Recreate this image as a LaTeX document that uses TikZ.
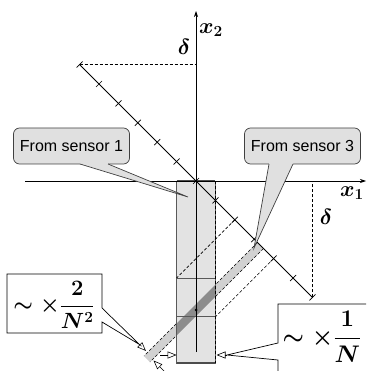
\RequirePackage{fix-cm}
\documentclass[tikz,border=0pt]{standalone}
\usepackage{amsmath}
\usepackage{fontspec}
\setsansfont{Liberation Sans}
\usetikzlibrary{arrows.meta,calc}
\begin{document}
\begin{tikzpicture}[x=1pt,y=-1pt,
  ax/.style={line width=0.7pt,-{Stealth[length=6pt,width=4pt]}},
  diag/.style={line width=0.9pt},
  tickmark/.style={line width=0.7pt},
  dsh/.style={line width=0.6pt,dash pattern=on 3pt off 2pt},
  lbl/.style={font=\fontsize{22}{26}\selectfont\boldmath,inner sep=0pt},
  biglbl/.style={font=\fontsize{24}{28}\selectfont\boldmath,inner sep=0pt},
  callout/.style={draw=black!75,fill=black!12,rounded corners=6pt,line width=0.7pt,
    font=\sffamily\fontsize{16}{19}\selectfont,minimum width=116pt,minimum height=36pt,inner sep=0pt},
  pointerfill/.style={fill=black!12},
  pointerline/.style={draw=black!75,line width=0.7pt},
  boxline/.style={line width=0.7pt,fill=white},
  oarrow/.style={line width=0.6pt,-{Triangle[open,length=9pt,width=7pt]}},
  cellline/.style={draw=black!65,line width=0.8pt},
]
\useasboundingbox (0,0) rectangle (366,371);
\clip (0,0) rectangle (366,371);

% key coordinates
\coordinate (O) at (196,181);
\foreach \k in {0,...,12} \coordinate (t\k) at ({196+19.4*(\k-6)},{181+19.4*(\k-6)});
\coordinate (RA) at (176.6,181);
\coordinate (RB) at (215.4,363);

% light band from sensor 3
\fill[black!18] (257.5,242.5) -- (263.5,248.5) -- (150,362) -- (144,356) -- cycle;
\draw[dsh] (257.5,242.5) -- (144,356);
\draw[dsh] (263.5,248.5) -- (150,362);

% sensor 1 strip
\fill[black!11] (RA) rectangle (RB);
\begin{scope}
  \clip (RA) rectangle (RB);
  \fill[black!45] (257.5,242.5) -- (263.5,248.5) -- (150,362) -- (144,356) -- cycle;
\end{scope}
\draw[cellline] (RA) rectangle (RB);
\draw[draw=black!70,line width=1.6pt] (176.6,181) -- (215.4,181);
\draw[draw=black!70,line width=1.6pt] (176.6,363) -- (215.4,363);
\draw[dsh] (215.4,181) -- (215.4,363);
\draw[cellline] (176.6,278) -- (215.4,278);
\draw[cellline] (176.6,316.8) -- (215.4,316.8);

% axes
\draw[ax] (25,181) -- (366,181);
\draw[ax] (196,352) -- (196,11);

% diagonal with ticks
\draw[diag] (t0) -- (t12);
\foreach \k in {0,...,12} \draw[tickmark] ($(t\k)+(-3,3)$) -- ($(t\k)+(3,-3)$);

% dashed projections
\draw[dsh] (t0) -- (t0 -| O);
\draw[dsh] (t12) -- (t12 |- O);
\draw[dsh] (t8) -- (176.6,278);
\draw[dsh] (t10) -- (215.4,316.8);

% centre dot
\fill (196,310) circle (1.5pt);

% axis labels
\node[lbl] (x2) at (211,30) {$x_2$};
\node[lbl] (d1) at (184,47) {$\delta$};
\node[lbl] (x1) at (352,193) {$x_1$};
\node[lbl] (d2) at (326,217) {$\delta$};

% callouts
\node[callout] (s1) at (71.5,146) {From sensor 1};
\coordinate (p1) at (188,197);
\fill[pointerfill] (80,162) -- (108,162) -- (108,164) -- (p1) -- (80,164) -- cycle;
\draw[pointerline] (80,164) -- (p1) -- (108,164);

\node[callout] (s3) at (302.5,146) {From sensor 3};
\coordinate (p3) at (254,248);
\fill[pointerfill] (269,162) -- (293,162) -- (293,164) -- (p3) -- (269,164) -- cycle;
\draw[pointerline] (269,164) -- (p3) -- (293,164);

% box 2/N^2
\coordinate (aB) at (139.6,344.6);
\coordinate (aT) at (146,351);
\draw[boxline] (102,308) -- (102,274) -- (7,274) -- (7,333) -- (102,333) -- (102,322) -- (aB) -- cycle;
\node[lbl] (f2) at (54,305) {$\sim\times\dfrac{2}{N^2}$};
\draw[oarrow] (aB) -- (aT);

% box 1/N
\coordinate (bB) at (227,355);
\coordinate (bT) at (216.5,355);
\draw[boxline] (278,343) -- (278,304) -- (380,304) -- (380,380) -- (278,380) -- (278,360) -- (bB) -- cycle;
\node[biglbl] (f1) at (322,337) {$\sim\times\dfrac{1}{N}$};
\draw[oarrow] (bB) -- (bT);

% width arrows
\coordinate (c3a) at (160,355);
\coordinate (c3b) at (176.6,355);
\draw[oarrow] (c3a) -- (c3b);
\coordinate (c2a) at (166,373);
\coordinate (c2b) at (153.5,360.5);
\draw[oarrow] (c2a) -- (c2b);
\end{tikzpicture}
\end{document}
